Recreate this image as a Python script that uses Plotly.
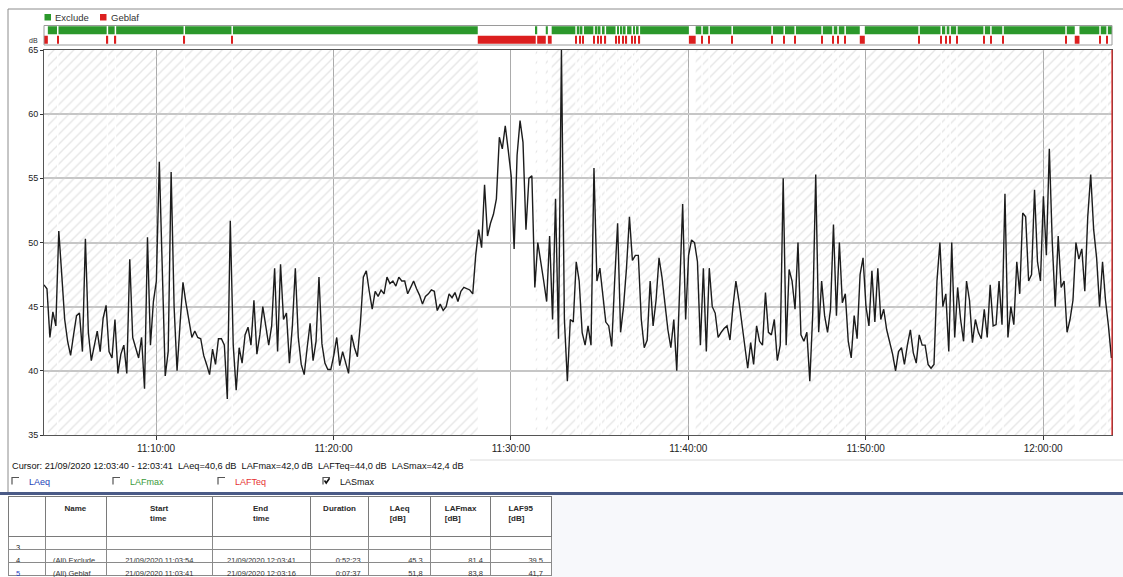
import plotly.graph_objects as go
from datetime import datetime, timedelta

W, H = 1123, 577
def fx(p):
    return p / W
def fy(p):
    return 1 - p / H

# ---------------- data ----------------
start_time = datetime(2020, 9, 21, 11, 3, 41)
step_seconds = 10
record_end_s = 3612
x_tick_start = datetime(2020, 9, 21, 11, 0, 0)
x_tick_step_ms = 600000

lasmax_db = [
    46.7, 46.4, 42.6, 44.6, 43.5, 50.9, 47.5, 44.0, 42.3, 41.2,
    42.8, 44.3, 44.5, 41.5, 50.3, 43.0, 40.8, 42.0, 43.1, 41.5,
    44.1, 45.1, 41.5, 41.0, 44.0, 39.8, 41.3, 42.0, 39.8, 48.7,
    42.6, 41.8, 41.0, 42.6, 38.6, 50.4, 42.0, 45.4, 47.0, 56.3,
    48.0, 39.6, 41.5, 55.5, 45.0, 40.0, 43.6, 46.9, 45.3, 43.8,
    42.6, 43.1, 42.6, 42.5, 41.2, 40.5, 39.7, 41.7, 40.5, 42.5,
    42.5, 42.0, 37.8, 51.7, 42.0, 38.5, 41.8, 40.6, 42.8, 43.4,
    42.0, 45.5, 41.3, 42.8, 45.0, 43.5, 42.0, 43.5, 48.0, 41.5,
    48.3, 44.0, 44.5, 40.6, 43.5, 48.0, 42.6, 40.5, 39.7, 41.8,
    43.7, 40.8, 42.3, 47.3, 42.1, 40.6, 40.1, 40.1, 41.2, 42.6,
    40.4, 41.5, 40.6, 39.8, 42.8, 41.8, 41.1, 43.7, 47.3, 47.8,
    46.2, 44.8, 46.2, 45.8, 46.3, 46.0, 47.3, 46.8, 47.0, 46.6,
    47.3, 47.0, 47.0, 46.0, 46.5, 47.0, 46.4, 45.9, 45.2, 45.8,
    46.0, 46.3, 46.2, 44.7, 45.2, 44.7, 45.0, 46.0, 45.7, 46.1,
    45.4, 46.2, 46.5, 46.4, 46.3, 46.0, 49.0, 51.0, 49.6, 54.5,
    50.5, 51.5, 52.2, 53.4, 58.2, 57.3, 59.1, 57.2, 55.2, 49.5,
    56.8, 59.5, 57.8, 51.0, 55.0, 55.2, 46.5, 50.0, 48.3, 47.0,
    45.4, 50.5, 44.0, 53.4, 42.5, 65.0, 44.0, 39.2, 44.0, 43.8,
    48.5, 47.0, 43.0, 42.0, 43.5, 42.0, 55.8, 47.0, 48.0, 45.8,
    43.8, 43.5, 41.9, 47.0, 51.5, 43.0, 45.0, 48.0, 52.0, 48.6,
    49.0, 49.0, 44.0, 41.8, 42.4, 47.0, 43.5, 45.5, 48.8, 47.3,
    45.0, 43.2, 41.8, 44.0, 40.0, 46.0, 53.0, 44.0, 49.0, 50.2,
    50.0, 48.5, 42.0, 48.0, 41.5, 48.0, 45.0, 44.5, 42.6, 43.0,
    43.3, 43.5, 42.4, 45.0, 47.0, 45.5, 43.8, 41.8, 40.2, 42.2,
    40.5, 43.5, 42.3, 42.0, 46.1, 43.0, 42.8, 44.0, 40.8, 42.0,
    55.0, 42.0, 47.9, 47.0, 44.8, 50.0, 42.8, 42.3, 43.0, 39.2,
    44.5, 55.3, 43.0, 47.0, 44.3, 43.0, 44.8, 51.4, 44.3, 50.0,
    45.3, 46.0, 42.3, 41.0, 44.3, 42.5, 47.5, 48.8, 45.0, 43.5,
    47.8, 43.8, 48.0, 44.0, 44.8, 43.2, 42.3, 41.3, 40.0, 41.5,
    41.8, 40.5, 42.0, 43.2, 41.4, 40.6, 42.8, 42.0, 42.0, 40.5,
    40.2, 40.5, 47.0, 50.0, 45.0, 46.0, 41.5, 50.0, 42.6, 46.5,
    44.0, 42.3, 47.0, 45.5, 42.2, 44.0, 43.0, 42.5, 44.8, 42.6,
    46.7, 43.5, 43.6, 47.0, 43.6, 53.8, 42.6, 45.0, 43.6, 48.5,
    46.0, 52.3, 52.0, 47.0, 47.5, 54.1, 48.5, 47.0, 53.6, 49.0,
    57.3, 50.0, 45.0, 50.5, 46.5, 47.0, 43.0, 44.0, 45.5, 50.0,
    48.7, 49.5, 46.2, 52.0, 55.3, 51.0, 48.8, 45.0, 48.5, 45.5,
    43.5, 41.0,
]

# Geblaf events (seconds after start, duration in seconds)
geblaf_start_s = [0, 44, 212, 239, 472, 634, 1467, 1668, 1704,
                  1797, 1811, 1821, 1858, 1872, 1882, 1896, 1933, 1943, 1956, 1967,
                  1987, 1997, 2011, 2181, 2223, 2247, 2325, 2460, 2501, 2538,
                  2629, 2666, 2683, 2707, 2759, 2957, 3032, 3048, 3062, 3085,
                  3177, 3200, 3241, 3454, 3486, 3569, 3593]
geblaf_dur_s = [13, 5, 5, 5, 5, 5, 196, 29, 13,
                5, 5, 5, 5, 5, 5, 5, 5, 5, 5, 5,
                5, 5, 5, 23, 5, 5, 5, 5, 5, 5,
                5, 5, 5, 5, 17, 5, 5, 5, 5, 5,
                5, 5, 5, 5, 16, 5, 5]

y_min, y_max = 35, 65
y_ticks = [35, 40, 45, 50, 55, 60, 65]

legend_names = ["Exclude", "Geblaf"]
legend_colors = ["#2b982b", "#dc1f1f"]

cursor_text = ("Cursor: 21/09/2020 12:03:40 - 12:03:41  LAeq=40,6 dB  LAFmax=42,0 dB  "
               "LAFTeq=44,0 dB  LASmax=42,4 dB")
channels = ["LAeq", "LAFmax", "LAFTeq", "LASmax"]
channel_colors = ["#2444b8", "#3a9a3a", "#e63232", "#111111"]
channel_checked = [False, False, False, True]

table_header = ["", "Name", "Start<br>time", "End<br>time", "Duration",
                "LAeq<br>[dB]", "LAFmax<br>[dB]", "LAF95<br>[dB]"]
row_ids = ["3", "4", "5"]
row_names = ["", "(All) Exclude", "(All) Geblaf"]
row_start = ["", "21/09/2020 11:03:54", "21/09/2020 11:03:41"]
row_end = ["", "21/09/2020 12:03:41", "21/09/2020 12:03:16"]
row_duration = ["", "0:52:23", "0:07:37"]
row_laeq = ["", "45,3", "51,8"]
row_lafmax = ["", "81,4", "83,8"]
row_laf95 = ["", "39,5", "41,7"]

# ---------------- derived ----------------
times = [start_time + timedelta(seconds=step_seconds * i) for i in range(len(lasmax_db))]

ex_start, ex_dur = [], []
cur = 0
for s, d in sorted(zip(geblaf_start_s, geblaf_dur_s)):
    if s > cur:
        ex_start.append(cur)
        ex_dur.append(s - cur)
    cur = max(cur, s + d)
if cur < record_end_s:
    ex_start.append(cur)
    ex_dur.append(record_end_s - cur)

FONT = "Liberation Sans, Arial, sans-serif"
fig = go.Figure()

# hatched background where "Exclude" applies
fig.add_trace(go.Bar(
    x=[start_time + timedelta(seconds=s + d / 2) for s, d in zip(ex_start, ex_dur)],
    y=[y_max - y_min] * len(ex_start), base=y_min,
    width=[d * 1000 for d in ex_dur],
    marker=dict(color="rgba(0,0,0,0)", line=dict(width=0),
                pattern=dict(shape="/", fgcolor="#cdcdcd", bgcolor="rgba(0,0,0,0)",
                             size=7, solidity=0.2)),
    hoverinfo="skip", showlegend=False, xaxis="x", yaxis="y"))

# LASmax line
fig.add_trace(go.Scatter(x=times, y=lasmax_db, mode="lines",
                         line=dict(color="#1c1c1c", width=1.4),
                         showlegend=False, xaxis="x", yaxis="y", name="LASmax"))

# status bars
fig.add_trace(go.Bar(orientation="h", y=[legend_names[0]] * len(ex_start),
                     base=[start_time + timedelta(seconds=s) for s in ex_start],
                     x=[d * 1000 for d in ex_dur], width=0.84,
                     marker=dict(color=legend_colors[0], line=dict(width=0)),
                     showlegend=False, xaxis="x2", yaxis="y2"))
fig.add_trace(go.Bar(orientation="h", y=[legend_names[1]] * len(geblaf_start_s),
                     base=[start_time + timedelta(seconds=s) for s in geblaf_start_s],
                     x=[d * 1000 for d in geblaf_dur_s], width=0.84,
                     marker=dict(color=legend_colors[1], line=dict(width=0)),
                     showlegend=False, xaxis="x2", yaxis="y2"))

# table
hdr = ["<b>%s</b>" % h for h in table_header]
cols = [row_ids, row_names, row_start, row_end, row_duration, row_laeq, row_lafmax, row_laf95]
id_colors = ["#222222", "#222222", "#1f3fbf"]
fig.add_trace(go.Table(
    domain=dict(x=[fx(8), fx(551)], y=[0, fy(496)]),
    columnwidth=[37, 61, 106, 98, 58, 62, 60, 60],
    header=dict(values=hdr, height=40, align=["left"] + ["center"] * 7,
                fill_color="white", line=dict(color="#7a7a7a", width=1),
                font=dict(family=FONT, size=8, color="#2a2a2a")),
    cells=dict(values=cols, height=13,
               align=["left", "left", "center", "center", "right", "right", "right", "right"],
               fill_color="white", line=dict(color="#8a8a8a", width=1),
               font=dict(family=FONT, size=7.5,
                         color=[id_colors] + [["#333333"] * 3] * 7))))

# ---------------- layout ----------------
x_range = [start_time, start_time + timedelta(seconds=record_end_s)]
x_dom = [fx(44), fx(1112)]
fig.update_layout(
    width=W, height=H, margin=dict(l=0, r=0, t=0, b=0, pad=0),
    paper_bgcolor="white", plot_bgcolor="white", barmode="overlay",
    showlegend=False, font=dict(family=FONT, size=9, color="#222"),
    xaxis=dict(type="date", range=x_range, domain=x_dom, anchor="y", automargin=False,
               tick0=x_tick_start, dtick=x_tick_step_ms, tickformat="%H:%M:%S",
               ticks="outside", ticklen=4, tickcolor="#333",
               showgrid=True, gridcolor="#ababab", gridwidth=1,
               showline=True, linecolor="#555", linewidth=1, mirror=True,
               tickfont=dict(size=10, color="#222"), zeroline=False),
    yaxis=dict(domain=[fy(435), fy(50)], range=[y_min, y_max], tickvals=y_ticks,
               automargin=False,
               ticks="outside", ticklen=3, tickcolor="#333",
               showgrid=True, gridcolor="#c6c6c6", gridwidth=1.5,
               showline=True, linecolor="#555", linewidth=1, mirror=True,
               tickfont=dict(size=9, color="#222"), zeroline=False, anchor="x"),
    xaxis2=dict(type="date", range=x_range, matches="x", anchor="y2", visible=False,
                domain=x_dom, automargin=False),
    yaxis2=dict(type="category", categoryorder="array",
                categoryarray=[legend_names[1], legend_names[0]],
                range=[-0.5, 1.5], domain=[fy(44.5), fy(25.5)], anchor="x2",
                visible=False, automargin=False),
)

shapes = []
line_c = "#8c8c8c"
# light panel right of the table
shapes.append(dict(type="rect", xref="paper", yref="paper", x0=fx(551), x1=1,
                   y0=0, y1=fy(495), fillcolor="#f7f8fb", line=dict(width=0), layer="below"))
# window frame
shapes.append(dict(type="line", xref="paper", yref="paper", x0=fx(8), x1=fx(8),
                   y0=fy(9), y1=fy(492), line=dict(color=line_c, width=1)))
shapes.append(dict(type="line", xref="paper", yref="paper", x0=fx(8), x1=1,
                   y0=fy(9), y1=fy(9), line=dict(color=line_c, width=1)))
shapes.append(dict(type="line", xref="paper", yref="paper", x0=fx(470), x1=1,
                   y0=fy(460), y1=fy(460), line=dict(color="#dcdcdc", width=1)))
# blue separator
shapes.append(dict(type="line", xref="paper", yref="paper", x0=0, x1=1,
                   y0=fy(493.5), y1=fy(493.5), line=dict(color="#4a5a86", width=3)))
# status bar frame
shapes.append(dict(type="rect", xref="x domain", yref="paper", x0=0, x1=1,
                   y0=fy(45), y1=fy(25.5), line=dict(color="#9a9a9a", width=1)))
# cursor line (right edge)
shapes.append(dict(type="line", xref="x domain", yref="y domain", x0=1, x1=1,
                   y0=0, y1=1, line=dict(color="#e02020", width=1.2)))

annotations = []
# legend
leg_x = [44.5, 100]
for name, col, lx in zip(legend_names, legend_colors, leg_x):
    shapes.append(dict(type="rect", xref="paper", yref="paper", x0=fx(lx), x1=fx(lx + 6.5),
                       y0=fy(20.5), y1=fy(14), fillcolor=col, line=dict(width=0)))
    annotations.append(dict(text=name, x=fx(lx + 8.5), y=fy(17.3), xref="paper", yref="paper",
                            xanchor="left", yanchor="middle", showarrow=False,
                            font=dict(size=9.5, color="#333")))
# dB label
annotations.append(dict(text="dB", x=fx(33), y=fy(41), xref="paper", yref="paper",
                        xanchor="center", yanchor="middle", showarrow=False,
                        font=dict(size=7, color="#333")))
# cursor text
annotations.append(dict(text=cursor_text, x=fx(10), y=fy(466), xref="paper", yref="paper",
                        xanchor="left", yanchor="middle", showarrow=False,
                        font=dict(size=9.2, color="#111")))
# channel check boxes
box_x = [12, 113, 218, 323]
for name, col, chk, bx in zip(channels, channel_colors, channel_checked, box_x):
    x0, x1, y0, y1 = fx(bx), fx(bx + 7), fy(477.5), fy(484.5)
    shapes.append(dict(type="path", xref="paper", yref="paper",
                       path="M %f,%f L %f,%f L %f,%f" % (x0, y1, x0, y0, x1, y0),
                       line=dict(color="#555", width=1.2)))
    if chk:
        shapes.append(dict(type="path", xref="paper", yref="paper",
                           path="M %f,%f L %f,%f L %f,%f" % (fx(bx + 1.5), fy(480.5), fx(bx + 3.2),
                                                             fy(483), fx(bx + 6.5), fy(478.2)),
                           line=dict(color="#111", width=1.6)))
    annotations.append(dict(text=name, x=fx(bx + 15), y=fy(481.5), xref="paper", yref="paper",
                            xanchor="left", yanchor="middle", showarrow=False,
                            font=dict(size=9, color=col)))

fig.update_layout(shapes=shapes, annotations=annotations)
fig.write_html("out.html", config={"displayModeBar": False},
               post_script="document.body.style.margin='0px';")
